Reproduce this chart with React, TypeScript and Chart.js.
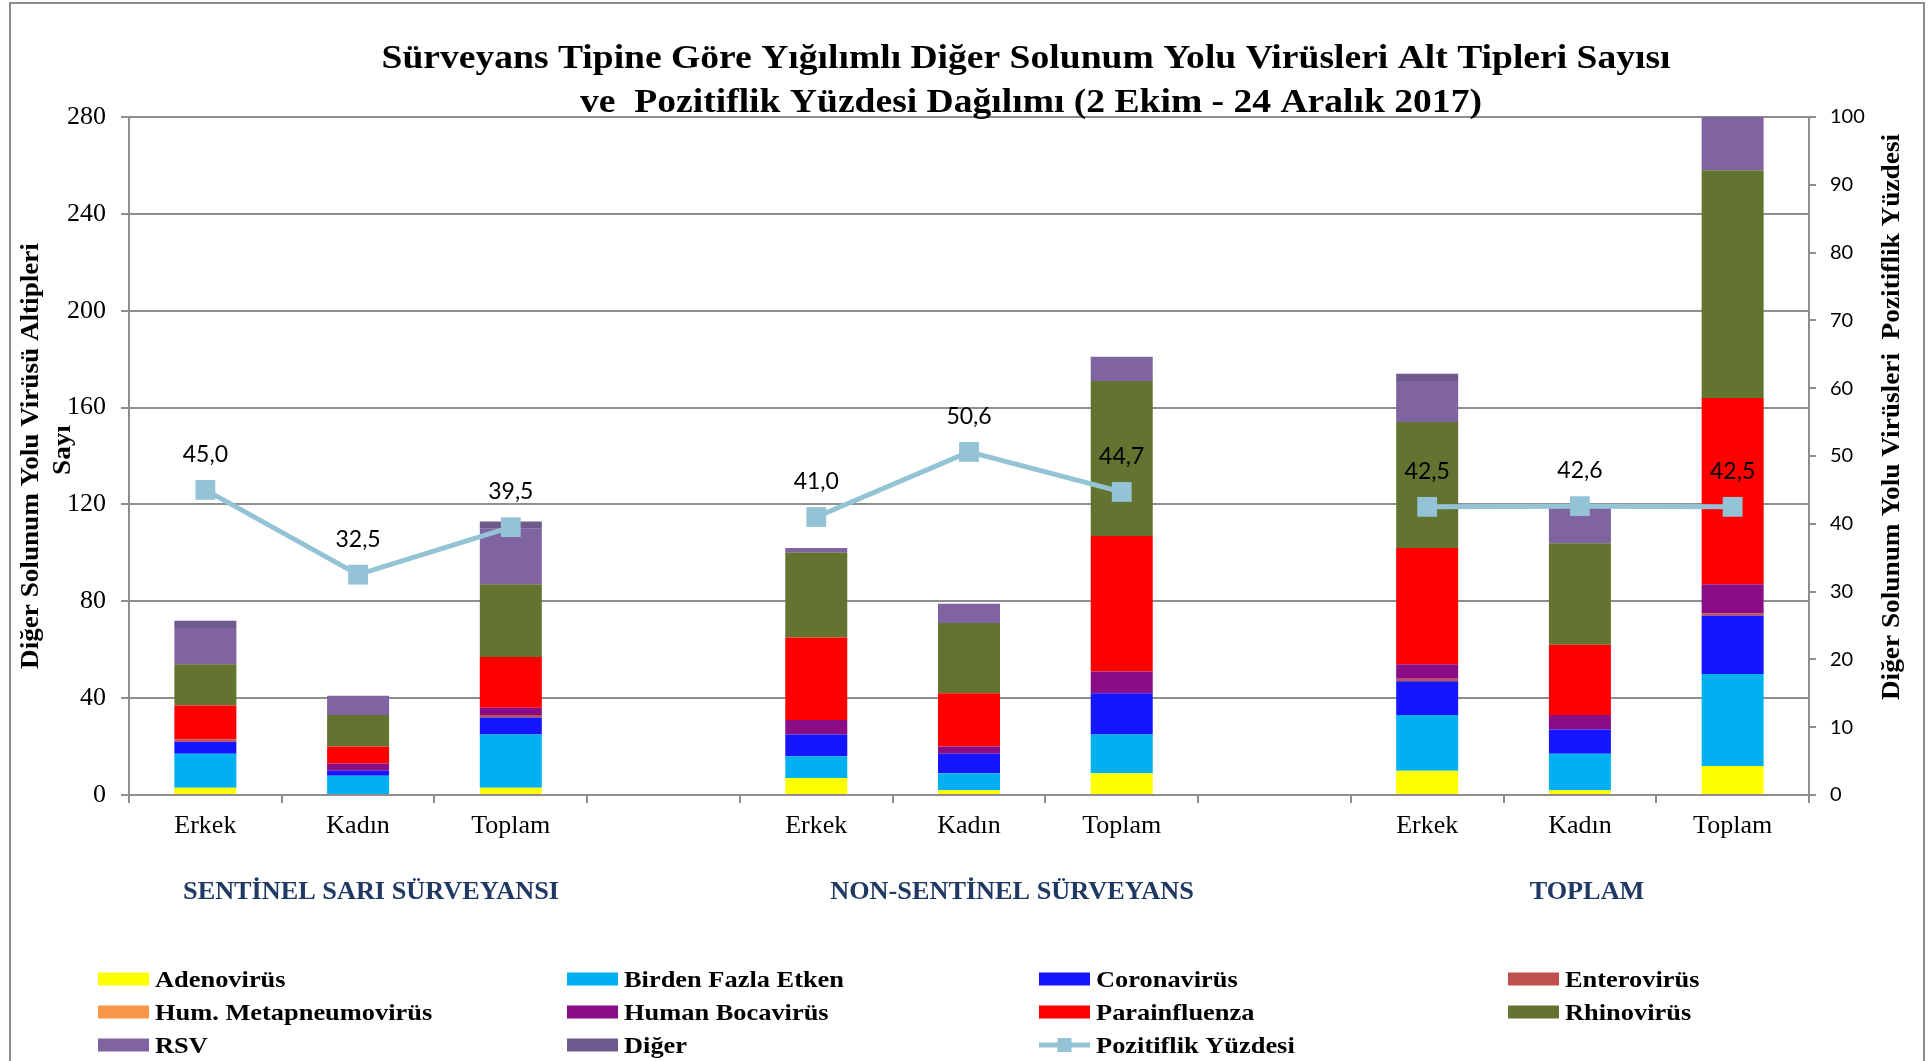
import React, { useEffect, useRef } from 'react';
import { Chart, registerables } from 'chart.js';

Chart.register(...registerables);

// ---------------- DATA ----------------
const categories = ['Erkek', 'Kadın', 'Toplam', '', 'Erkek', 'Kadın', 'Toplam', '', 'Erkek', 'Kadın', 'Toplam'];
const groupLabels = ['SENTİNEL SARI SÜRVEYANSI', 'NON-SENTİNEL SÜRVEYANS', 'TOPLAM'];

const adenovirus = [3, 0, 3, null, 7, 2, 9, null, 10, 2, 12];
const birdenFazlaEtken = [14, 8, 22, null, 9, 7, 16, null, 23, 15, 38];
const coronavirus = [5, 2, 7, null, 9, 8, 17, null, 14, 10, 24];
const enterovirus = [1, 0, 1, null, 0, 0, 0, null, 1, 0, 1];
const humMetapneumovirus = [0, 0, 0, null, 0, 0, 0, null, 0, 0, 0];
const humanBocavirus = [0, 3, 3, null, 6, 3, 9, null, 6, 6, 12];
const parainfluenza = [14, 7, 21, null, 34, 22, 56, null, 48, 29, 77];
const rhinovirus = [17, 13, 30, null, 35, 29, 64, null, 52, 42, 94];
const rsv = [15, 8, 23, null, 2, 8, 10, null, 17, 16, 33];
const diger = [3, 0, 3, null, 0, 0, 0, null, 3, 0, 3];
const pozitiflikYuzdesi = [45.0, 32.5, 39.5, null, 41.0, 50.6, 44.7, null, 42.5, 42.6, 42.5];

const seriesNames = [
  'Adenovirüs', 'Birden Fazla Etken', 'Coronavirüs', 'Enterovirüs', 'Hum. Metapneumovirüs',
  'Human Bocavirüs', 'Parainfluenza', 'Rhinovirüs', 'RSV', 'Diğer',
];
const seriesValues = [
  adenovirus, birdenFazlaEtken, coronavirus, enterovirus, humMetapneumovirus,
  humanBocavirus, parainfluenza, rhinovirus, rsv, diger,
];
const seriesColors = [
  '#FFFF00', '#00B0F0', '#1515FF', '#C0504D', '#F79646',
  '#8B0D85', '#FF0000', '#62742F', '#8064A2', '#6F5A8E',
];
const lineName = 'Pozitiflik Yüzdesi';
const lineColor = '#93C3D5';

const titleLines = [
  'Sürveyans Tipine Göre Yığılımlı Diğer Solunum Yolu Virüsleri Alt Tipleri Sayısı',
  've  Pozitiflik Yüzdesi Dağılımı (2 Ekim - 24 Aralık 2017)',
];
const leftAxisTitle = ['Diğer Solunum Yolu Virüsü Altipleri', 'Sayı'];
const rightAxisTitle = 'Diğer Solunum Yolu Virüsleri  Pozitiflik Yüzdesi';

const leftMax = 280;
const leftStep = 40;
const rightMax = 100;
const rightStep = 10;

// ---------------- STYLE ----------------
const SERIF = "'Liberation Serif', 'Times New Roman', serif";
const SANS = "Lato, 'Open Sans', sans-serif";
const GRID = '#8E8E8E';
const NAVY = '#1F3864';

function drawText(
  ctx: CanvasRenderingContext2D,
  text: string,
  x: number,
  y: number,
  font: string,
  color: string,
  sx: number,
  align: CanvasTextAlign,
  baseline: CanvasTextBaseline,
  rotate = 0,
) {
  ctx.save();
  ctx.translate(x, y);
  if (rotate) ctx.rotate(rotate);
  ctx.scale(sx, 1);
  ctx.font = font;
  ctx.fillStyle = color;
  ctx.textAlign = align;
  ctx.textBaseline = baseline;
  ctx.fillText(text, 0, 0);
  ctx.restore();
}

const decorPlugin = {
  id: 'decor',
  beforeDraw(chart: any) {
    const ctx: CanvasRenderingContext2D = chart.ctx;
    ctx.save();
    ctx.fillStyle = '#FFFFFF';
    ctx.fillRect(0, 0, chart.width, chart.height);
    ctx.strokeStyle = '#8C8C8C';
    ctx.lineWidth = 2;
    ctx.strokeRect(10, 3, 1914, 1200);
    ctx.restore();
  },
  afterDatasetsDraw(chart: any) {
    const ctx: CanvasRenderingContext2D = chart.ctx;
    const idx = chart.data.datasets.length - 1;
    const meta = chart.getDatasetMeta(idx);
    const vals = chart.data.datasets[idx].data;
    meta.data.forEach((pt: any, i: number) => {
      const v = vals[i];
      if (v === null || v === undefined) return;
      drawText(ctx, v.toFixed(1).replace('.', ','), pt.x, pt.y - 28, `23px ${SANS}`, '#000', 1, 'center', 'alphabetic');
    });
  },
  afterDraw(chart: any) {
    const ctx: CanvasRenderingContext2D = chart.ctx;

    // Title
    const titleFont = `bold 33px ${SERIF}`;
    ctx.save();
    ctx.font = titleFont;
    const w1 = ctx.measureText(titleLines[0]).width;
    ctx.restore();
    const tsx = 1289 / w1;
    drawText(ctx, titleLines[0], 1026, 68, titleFont, '#000', tsx, 'center', 'alphabetic');
    drawText(ctx, titleLines[1], 1031, 112, titleFont, '#000', tsx, 'center', 'alphabetic');

    // Group labels
    const groupX = [371, 1012, 1587];
    groupLabels.forEach((g, i) => {
      drawText(ctx, g, groupX[i], 899, `bold 25px ${SERIF}`, NAVY, 1.05, 'center', 'alphabetic');
    });

    // Axis titles
    drawText(ctx, leftAxisTitle[0], 31, 456, `bold 26px ${SERIF}`, '#000', 1.044, 'center', 'middle', -Math.PI / 2);
    drawText(ctx, leftAxisTitle[1], 63, 450, `bold 26px ${SERIF}`, '#000', 1.044, 'center', 'middle', -Math.PI / 2);
    drawText(ctx, rightAxisTitle, 1892, 417, `bold 26px ${SERIF}`, '#000', 1.05, 'center', 'middle', -Math.PI / 2);

    // Legend
    const cols = [98, 567, 1039, 1508];
    const rows = [979, 1012, 1045];
    chart.data.datasets.forEach((ds: any, i: number) => {
      const cx = cols[i % 4];
      const cy = rows[Math.floor(i / 4)];
      ctx.save();
      if (ds.type === 'line') {
        ctx.strokeStyle = ds.borderColor;
        ctx.lineWidth = 5;
        ctx.beginPath();
        ctx.moveTo(cx, cy);
        ctx.lineTo(cx + 51, cy);
        ctx.stroke();
        ctx.fillStyle = ds.borderColor;
        ctx.fillRect(cx + 25.5 - 7, cy - 7, 14, 14);
      } else {
        ctx.fillStyle = ds.backgroundColor;
        ctx.fillRect(cx, cy - 6.5, 51, 13);
      }
      ctx.restore();
      drawText(ctx, ds.label, cx + 57, cy + 8, `bold 24px ${SERIF}`, '#000', 1.1, 'left', 'alphabetic');
    });
  },
};

export default function App() {
  const ref = useRef<HTMLCanvasElement>(null);

  useEffect(() => {
    const canvas = ref.current;
    if (!canvas) return;

    const barSets: any[] = seriesNames.map((name, i) => ({
      type: 'bar',
      label: name,
      data: seriesValues[i],
      backgroundColor: seriesColors[i],
      borderWidth: 0,
      yAxisID: 'y',
      order: 1,
      barPercentage: 0.406,
      categoryPercentage: 1,
    }));

    const lineSet: any = {
      type: 'line',
      label: lineName,
      data: pozitiflikYuzdesi,
      borderColor: lineColor,
      backgroundColor: lineColor,
      borderWidth: 5,
      pointStyle: 'rect',
      pointRadius: 14,
      pointBackgroundColor: lineColor,
      pointBorderColor: lineColor,
      pointBorderWidth: 0,
      spanGaps: false,
      yAxisID: 'y1',
      order: 0,
      tension: 0,
    };

    const chart = new Chart(canvas, {
      type: 'bar',
      data: { labels: categories, datasets: [...barSets, lineSet] },
      options: {
        responsive: false,
        animation: false,
        layout: { padding: { top: 117, left: 0, right: 0, bottom: 0 } },
        plugins: {
          legend: { display: false },
          tooltip: { enabled: false },
          title: { display: false },
        },
        scales: {
          x: {
            stacked: true,
            grid: { offset: true, drawOnChartArea: false, drawTicks: true, tickLength: 8, color: GRID, lineWidth: 2 },
            border: { display: true, color: GRID, width: 2 },
            ticks: { color: '#000', font: { family: SERIF, size: 26 }, padding: 8, autoSkip: false, maxRotation: 0 },
            afterFit: (s: any) => { s.height = 266; },
          },
          y: {
            stacked: true,
            position: 'left',
            min: 0,
            max: leftMax,
            grid: { color: GRID, lineWidth: 2, tickLength: 8 },
            border: { display: true, color: GRID, width: 2 },
            ticks: { stepSize: leftStep, color: '#000', font: { family: SERIF, size: 26 }, padding: 15 },
            afterFit: (s: any) => { s.width = 129; },
          },
          y1: {
            position: 'right',
            min: 0,
            max: rightMax,
            grid: { drawOnChartArea: false, color: GRID, lineWidth: 2, tickLength: 7 },
            border: { display: true, color: GRID, width: 2 },
            ticks: { stepSize: rightStep, color: '#000', font: { family: SANS, size: 20 }, padding: 14 },
            afterFit: (s: any) => { s.width = 123; },
          },
        },
      } as any,
      plugins: [decorPlugin as any],
    });

    return () => chart.destroy();
  }, []);

  return (
    <div style={{ position: 'fixed', left: 0, top: 0, width: 1932, height: 1061, background: '#fff' }}>
      <canvas ref={ref} width={1932} height={1061} style={{ display: 'block', width: '1932px', height: '1061px' }} />
    </div>
  );
}
